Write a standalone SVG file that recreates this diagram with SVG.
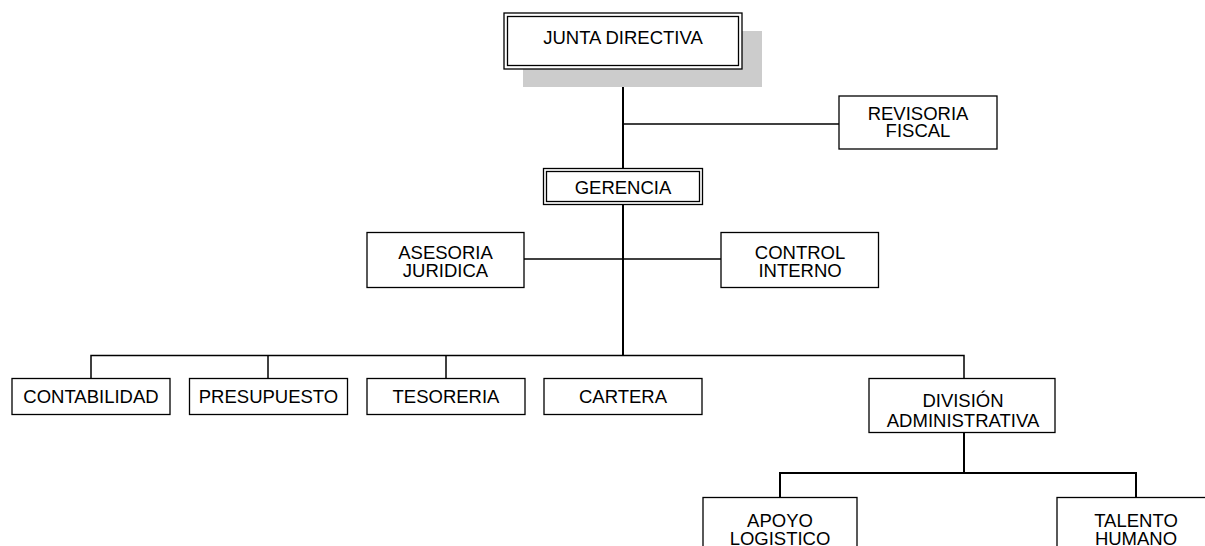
<svg xmlns="http://www.w3.org/2000/svg" width="1205" height="546" viewBox="0 0 1205 546">
<style>
.box{fill:#fff;stroke:#000;stroke-width:1.3}
.dbl{fill:none;stroke:#000;stroke-width:1.3}
.t{font-family:"Liberation Sans",Arial,sans-serif;font-size:18.5px;fill:#000;text-anchor:middle}
.c{stroke:#000;stroke-width:1.5;fill:none}
.m{stroke:#000;stroke-width:2;fill:none}
</style>
<rect width="1205" height="546" fill="#fff"/>
<g id="connectors">
<line class="m" x1="623" y1="69" x2="623" y2="168"/>
<line class="c" x1="623" y1="124" x2="839" y2="124"/>
<line class="m" x1="623" y1="204" x2="623" y2="356"/>
<line class="c" x1="524" y1="259" x2="721" y2="259"/>
<polyline class="c" points="91,378 91,355.5 964,355.5 964,378"/>
<line class="c" x1="268" y1="355.5" x2="268" y2="378"/>
<line class="c" x1="446" y1="355.5" x2="446" y2="378"/>
<line class="m" x1="964" y1="432" x2="964" y2="473"/>
<polyline class="m" points="780,497 780,473 1136,473 1136,497"/>
</g>
<g id="junta">
<rect x="523" y="31" width="239" height="56" fill="#cccccc"/>
<rect class="box" x="504" y="13" width="238" height="56"/>
<rect class="dbl" x="507.5" y="16.5" width="231" height="49"/>
<text class="t" x="623" y="43.5">JUNTA DIRECTIVA</text>
</g>
<g id="revisoria">
<rect class="box" x="839" y="96" width="158" height="53"/>
<text class="t" x="918" y="119.5">REVISORIA</text>
<text class="t" x="918" y="137">FISCAL</text>
</g>
<g id="gerencia">
<rect class="box" x="543.5" y="168.5" width="159" height="36" stroke-width="2"/>
<rect class="dbl" x="546.5" y="171.5" width="153" height="30"/>
<text class="t" x="623" y="193.5">GERENCIA</text>
</g>
<g id="asesoria">
<rect class="box" x="367" y="232.5" width="157" height="55"/>
<text class="t" x="445.5" y="259">ASESORIA</text>
<text class="t" x="445.5" y="276.5">JURIDICA</text>
</g>
<g id="control">
<rect class="box" x="721" y="232.5" width="157.5" height="55"/>
<text class="t" x="800" y="259">CONTROL</text>
<text class="t" x="800" y="276.5">INTERNO</text>
</g>
<g id="contabilidad">
<rect class="box" x="12" y="378.5" width="158" height="36"/>
<text class="t" x="91" y="403">CONTABILIDAD</text>
</g>
<g id="presupuesto">
<rect class="box" x="189.5" y="378.5" width="158" height="36"/>
<text class="t" x="268.5" y="403">PRESUPUESTO</text>
</g>
<g id="tesoreria">
<rect class="box" x="367" y="378.5" width="158" height="36"/>
<text class="t" x="446" y="403">TESORERIA</text>
</g>
<g id="cartera">
<rect class="box" x="544" y="378.5" width="158" height="36"/>
<text class="t" x="623" y="403">CARTERA</text>
</g>
<g id="division">
<rect class="box" x="869" y="378.5" width="186" height="54"/>
<text class="t" x="963" y="407">DIVISIÓN</text>
<text class="t" x="963" y="427">ADMINISTRATIVA</text>
</g>
<g id="apoyo">
<rect class="box" x="703" y="497.5" width="154" height="60"/>
<text class="t" x="780" y="527">APOYO</text>
<text class="t" x="780" y="545">LOGISTICO</text>
</g>
<g id="talento">
<rect class="box" x="1057" y="497.5" width="158" height="60"/>
<text class="t" x="1136" y="527">TALENTO</text>
<text class="t" x="1136" y="545">HUMANO</text>
</g>
</svg>
